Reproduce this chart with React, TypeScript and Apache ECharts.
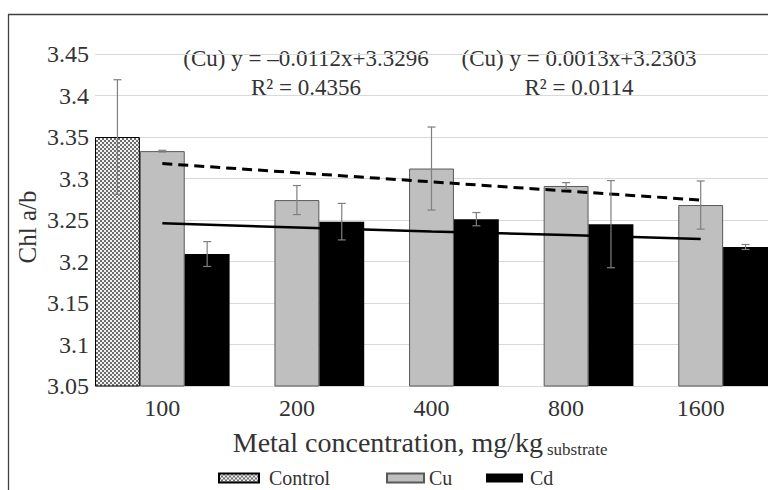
import React, { useEffect, useRef } from "react";
import * as echarts from "echarts";

const categories = ["100", "200", "400", "800", "1600"];
const controlValues = [3.35, null, null, null, null];
const controlErr = [0.069, null, null, null, null];
const cuValues = [3.333, 3.274, 3.312, 3.291, 3.268];
const cuErr = [0.001, 0.0175, 0.05, 0.004, 0.029];
const cdValues = [3.209, 3.248, 3.251, 3.245, 3.2175];
const cdErr = [0.015, 0.022, 0.008, 0.0525, 0.003];
const cuTrend = [3.318, 3.307, 3.296, 3.285, 3.274];
const cdTrend = [3.246, 3.241, 3.236, 3.232, 3.227];
const yMin = 3.05;
const yMax = 3.45;
const yStep = 0.05;
const eq1 = ["(Cu) y = –0.0112x+3.3296", "R² = 0.4356"];
const eq2 = ["(Cu) y = 0.0013x+3.2303", "R² = 0.0114"];
const xTitle = "Metal concentration, mg/kg";
const xTitleSub = "substrate";
const yTitle = "Chl a/b";

const FONT = "Liberation Serif";
const TEXT = "#333333";

function makePattern() {
  const c = document.createElement("canvas");
  c.width = 4;
  c.height = 4;
  const ctx = c.getContext("2d")!;
  ctx.fillStyle = "#f2f2f2";
  ctx.fillRect(0, 0, 4, 4);
  ctx.fillStyle = "#6e6e6e";
  ctx.fillRect(0, 0, 2, 2);
  ctx.fillRect(2, 2, 2, 2);
  return { image: c, repeat: "repeat" } as any;
}

export default function App() {
  const ref = useRef<HTMLDivElement>(null);
  useEffect(() => {
    if (!ref.current) return;
    const chart = echarts.init(ref.current, null, { renderer: "svg" });
    const pattern = makePattern();

    const errData: any[] = [];
    const pushErr = (vals: (number | null)[], errs: (number | null)[], k: number) => {
      vals.forEach((v, i) => {
        const e = errs[i];
        if (v == null || e == null) return;
        errData.push([i, v - e, v + e, k]);
      });
    };
    pushErr(controlValues, controlErr, 0);
    pushErr(cuValues, cuErr, 1);
    pushErr(cdValues, cdErr, 2);

    const legendBase = (name: string, left: number, w: number, textPad: number) => ({
      data: [name],
      left,
      top: 467,
      padding: 0,
      orient: "horizontal",
      itemWidth: w,
      itemHeight: 9,
      icon: "rect",
      selectedMode: false,
      textStyle: {
        fontFamily: FONT,
        fontSize: 20,
        lineHeight: 22,
        color: TEXT,
        padding: [0, 0, 0, textPad],
      },
    });

    const txt = (
      text: string,
      x: number,
      y: number,
      size: number,
      align: string = "center",
      extra: any = {}
    ) => ({
      type: "text",
      x,
      y,
      ...extra,
      style: {
        text,
        fontFamily: FONT,
        fontSize: size,
        fill: TEXT,
        align,
        verticalAlign: "middle",
      },
    });

    chart.setOption({
      animation: false,
      backgroundColor: "#ffffff",
      textStyle: { fontFamily: FONT },
      grid: { left: 95, top: 54, width: 677, height: 332, containLabel: false },
      legend: [
        legendBase("Control", 218, 40, 5),
        legendBase("Cu", 386, 37, 0),
        legendBase("Cd", 486, 37, 2),
      ],
      xAxis: {
        type: "category",
        data: categories,
        axisTick: { show: false },
        axisLine: { show: true, lineStyle: { color: "#d9d9d9", width: 1 } },
        axisLabel: {
          fontFamily: FONT,
          fontSize: 24,
          color: TEXT,
          margin: 10,
        },
        splitLine: { show: false },
      },
      yAxis: {
        type: "value",
        min: yMin,
        max: yMax,
        interval: yStep,
        axisLine: { show: false },
        axisTick: { show: false },
        axisLabel: {
          fontFamily: FONT,
          fontSize: 24,
          color: TEXT,
          margin: 6,
          formatter: (v: number) => String(parseFloat(v.toFixed(2))),
        },
        splitLine: { show: true, lineStyle: { color: "#d9d9d9", width: 1 } },
      },
      series: [
        {
          name: "Control",
          type: "bar",
          data: controlValues,
          barGap: "0%",
          barCategoryGap: "0%",
          itemStyle: { color: pattern, borderColor: "#000000", borderWidth: 1 },
          z: 2,
        },
        {
          name: "Cu",
          type: "bar",
          data: cuValues,
          barGap: "0%",
          barCategoryGap: "0%",
          itemStyle: { color: "#bfbfbf", borderColor: "#595959", borderWidth: 1 },
          z: 2,
        },
        {
          name: "Cd",
          type: "bar",
          data: cdValues,
          barGap: "0%",
          barCategoryGap: "0%",
          itemStyle: { color: "#000000" },
          z: 2,
        },
        {
          name: "Cd trend",
          type: "line",
          data: cdTrend,
          symbol: "none",
          lineStyle: { color: "#000000", width: 2.5, type: "solid" },
          z: 4,
        },
        {
          name: "Cu trend",
          type: "line",
          data: cuTrend,
          symbol: "none",
          lineStyle: { color: "#000000", width: 3, type: [10, 6] },
          z: 4,
        },
        {
          name: "Error",
          type: "custom",
          data: errData,
          encode: { x: 0, y: [1, 2] },
          z: 5,
          renderItem: (params: any, api: any) => {
            const idx = api.value(0);
            const lo = api.value(1);
            const hi = api.value(2);
            const k = api.value(3);
            const bw = api.size([1, 0])[0] / 3;
            const pTop = api.coord([idx, hi]);
            const pBot = api.coord([idx, lo]);
            const cx = pTop[0] + (k - 1) * bw;
            const cap = 4;
            const style = { stroke: "#7f7f7f", lineWidth: 1.2 };
            return {
              type: "group",
              children: [
                { type: "line", shape: { x1: cx, y1: pTop[1], x2: cx, y2: pBot[1] }, style },
                { type: "line", shape: { x1: cx - cap, y1: pTop[1], x2: cx + cap, y2: pTop[1] }, style },
                { type: "line", shape: { x1: cx - cap, y1: pBot[1], x2: cx + cap, y2: pBot[1] }, style },
              ],
            };
          },
        },
      ],
      graphic: [
        {
          type: "line",
          shape: { x1: 8, y1: 14.5, x2: 768, y2: 14.5 },
          style: { stroke: "#404040", lineWidth: 1.3 },
        },
        {
          type: "line",
          shape: { x1: 8.5, y1: 14.5, x2: 8.5, y2: 490 },
          style: { stroke: "#404040", lineWidth: 1.3 },
        },
        txt(eq1[0], 306, 58, 23),
        txt(eq1[1], 306, 87, 23),
        txt(eq2[0], 579, 58, 23),
        txt(eq2[1], 579, 87, 23),
        txt(yTitle, 27.5, 227, 25, "center", { rotation: Math.PI / 2 }),
        txt(xTitle, 543, 442, 28, "right"),
        txt(xTitleSub, 547, 449, 17, "left"),
      ],
    });
    return () => chart.dispose();
  }, []);
  return (
    <div
      ref={ref}
      style={{ position: "fixed", left: 0, top: 0, width: 768, height: 490 }}
    />
  );
}
